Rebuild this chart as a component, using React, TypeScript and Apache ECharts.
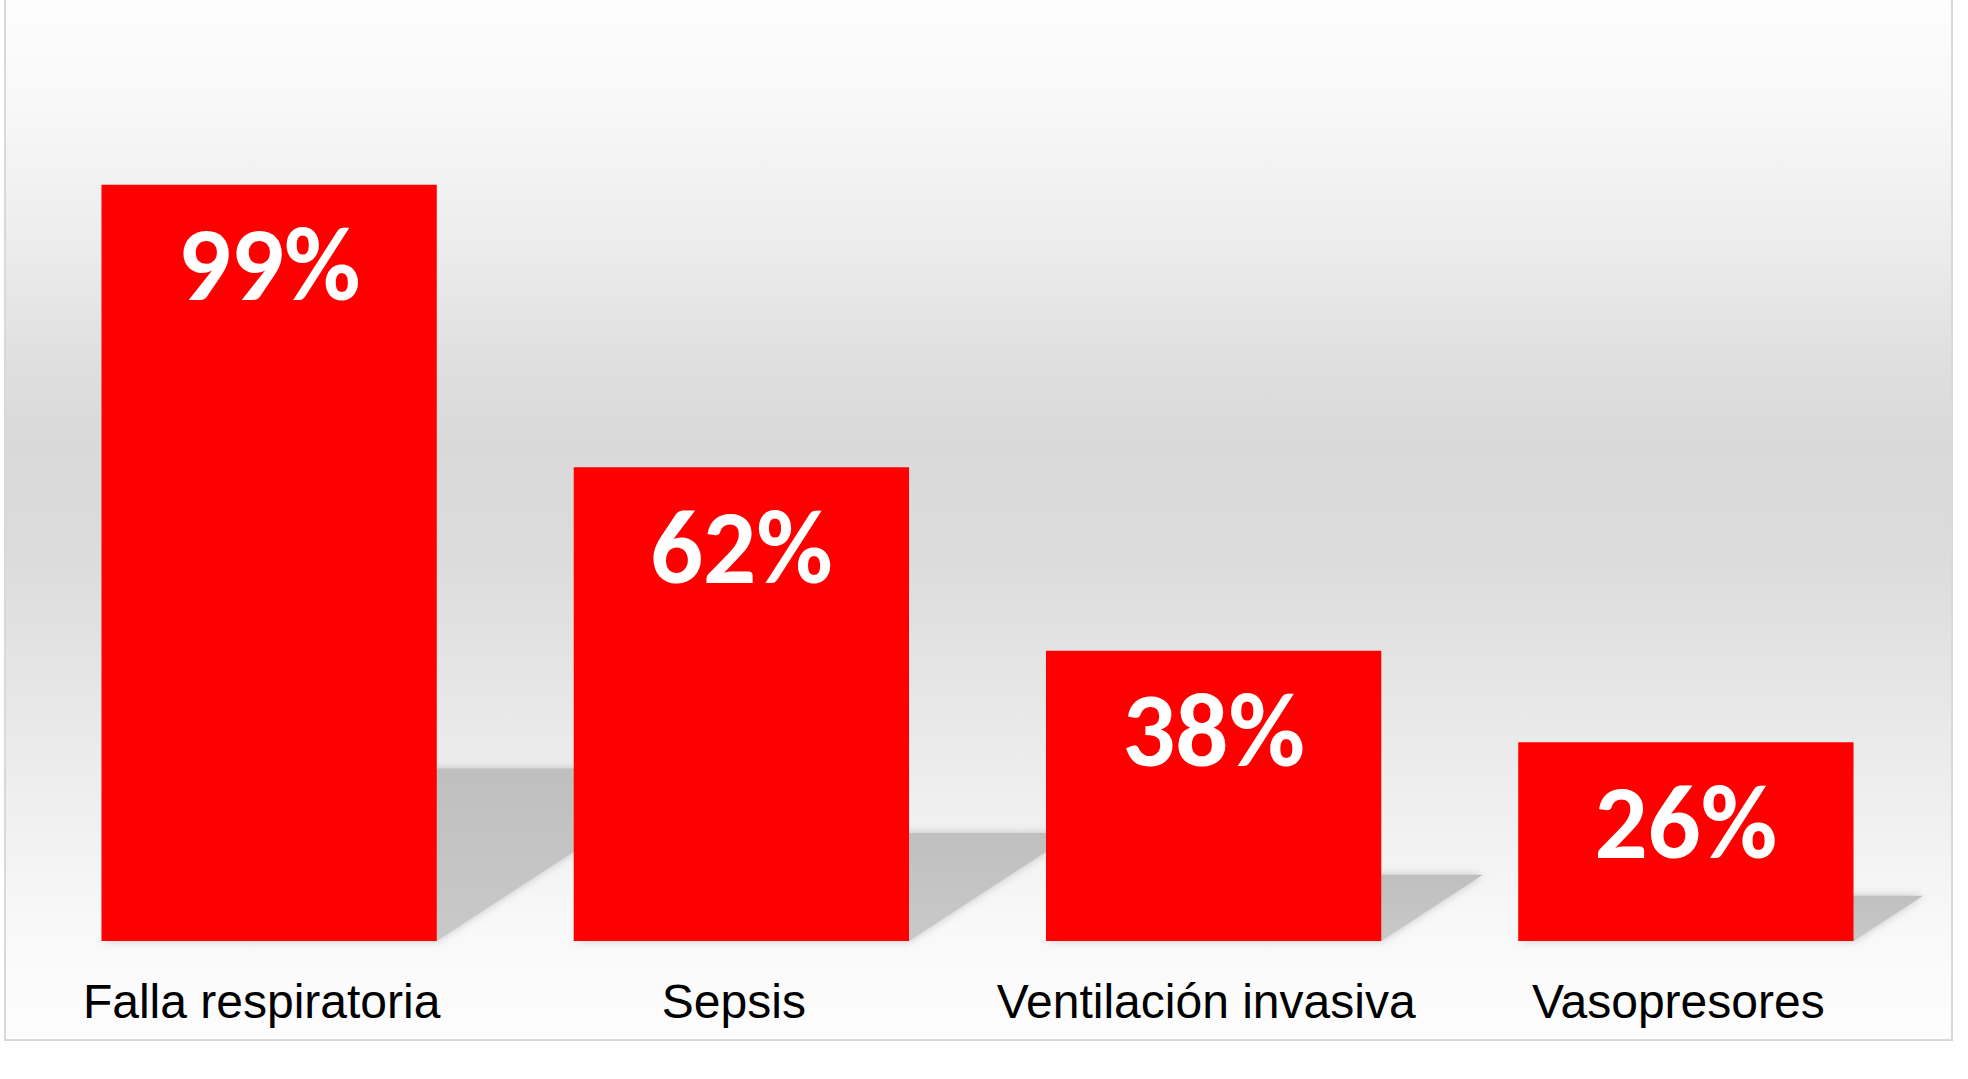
import React, { useEffect, useRef } from "react";
import * as echarts from "echarts";

const categories = ["Falla respiratoria", "Sepsis", "Ventilación invasiva", "Vasopresores"];
const values = [99, 62, 38, 26];

export default function App() {
  const ref = useRef<HTMLDivElement>(null);
  useEffect(() => {
    const chart = echarts.init(ref.current!, null, { renderer: "svg" });
    const shadowData = categories.map((c, i) => [i, values[i]]);
    chart.setOption({
      animation: false,
      graphic: [
        {
          type: "rect",
          z: -10,
          silent: true,
          shape: { x: 5, y: -3, width: 1947, height: 1043 },
          style: {
            fill: {
              type: "linear",
              x: 0,
              y: 0,
              x2: 0,
              y2: 1,
              colorStops: [
                { offset: 0, color: "#fdfdfd" },
                { offset: 0.1, color: "#f8f8f8" },
                { offset: 0.24, color: "#ececec" },
                { offset: 0.36, color: "#dedede" },
                { offset: 0.43, color: "#d9d9d9" },
                { offset: 0.54, color: "#dcdcdc" },
                { offset: 0.66, color: "#e6e6e6" },
                { offset: 0.8, color: "#f1f1f1" },
                { offset: 0.9, color: "#f9f9f9" },
                { offset: 1, color: "#fdfdfd" },
              ],
            },
            stroke: "#d9d9d9",
            lineWidth: 2,
          },
        },
      ],
      grid: { left: 33, right: 46, top: 177, bottom: 138, containLabel: false },
      xAxis: {
        type: "category",
        data: categories,
        axisLine: { show: false },
        axisTick: { show: false },
        axisLabel: {
          color: "#000000",
          fontFamily: "Liberation Sans, Arial",
          fontSize: 48,
          margin: 36,
          interval: 0,
          padding: [0, 15, 0, 0],
        },
      },
      yAxis: {
        type: "value",
        min: 0,
        max: 100,
        show: false,
        splitLine: { show: false },
      },
      series: [
        {
          type: "custom",
          z: 1,
          silent: true,
          data: shadowData,
          renderItem: (params: any, api: any) => {
            const x = api.value(0);
            const v = api.value(1);
            const bottom = api.coord([x, 0]);
            const top = api.coord([x, v]);
            const bw = api.size([1, 0])[0] * 0.71;
            const h = bottom[1] - top[1];
            const s = h * 0.35;
            const hs = h * 0.228;
            const cx = bottom[0];
            const by = bottom[1];
            return {
              type: "polygon",
              shape: {
                points: [
                  [cx - bw / 2, by],
                  [cx + bw / 2, by],
                  [cx + bw / 2 + s, by - hs],
                  [cx - bw / 2 + s, by - hs],
                ],
              },
              style: {
                fill: {
                  type: "linear",
                  x: 0,
                  y: 0,
                  x2: 0,
                  y2: 1,
                  colorStops: [
                    { offset: 0, color: "#bfbfbf" },
                    { offset: 1, color: "#c9c9c9" },
                  ],
                },
                shadowBlur: 8,
                shadowColor: "rgba(175,175,175,0.7)",
              },
            };
          },
        },
        {
          type: "bar",
          z: 2,
          data: values,
          barWidth: "71%",
          itemStyle: { color: "#ff0000" },
          label: {
            show: true,
            position: "insideTop",
            distance: 27,
            formatter: "{c}%",
            color: "#ffffff",
            fontFamily: "Carlito, Lato",
            fontWeight: "bold",
            fontSize: 105,
          },
        },
      ],
    });
    return () => chart.dispose();
  }, []);
  return (
    <div
      ref={ref}
      style={{ position: "fixed", left: 0, top: 0, width: 1968, height: 1079, background: "#ffffff" }}
    />
  );
}
